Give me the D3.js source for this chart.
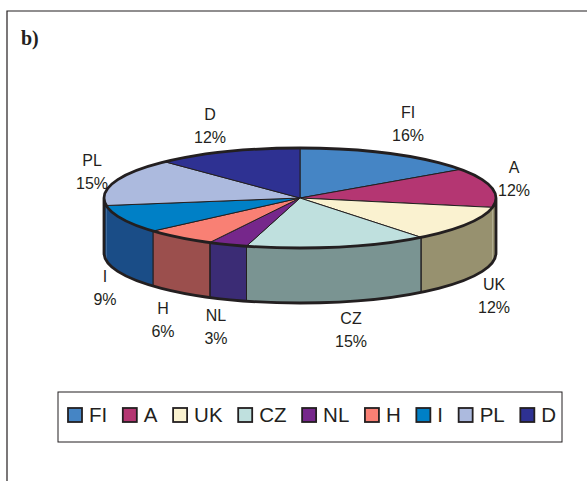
<!DOCTYPE html>
<html>
<head>
<meta charset="utf-8">
<script src="https://cdnjs.cloudflare.com/ajax/libs/d3/7.8.5/d3.min.js"></script>
<style>
	html, body { margin: 0; padding: 0; background: #fff; }
	svg { display: block; }
	text { font-family: "Liberation Sans", Arial, sans-serif; fill: #231f20; }
</style>
</head>
<body>
<svg id="chart" width="587" height="481"></svg>
<script>
const countries = ["FI", "A", "UK", "CZ", "NL", "H", "I", "PL", "D"];
// percentages as printed next to the slices
const shares = [16, 12, 12, 15, 3, 6, 9, 15, 12];
// slice sizes, they differ a bit from the printed ones
const sliceSizes = [15.3, 12.7, 11.4, 15, 3.2, 5.9, 9.1, 15.3, 12.1];
const topColors = ["#4585c5", "#b43672", "#faf2d0", "#bfe0de", "#76278b", "#f98074", "#0080c6", "#acbade", "#2e3192"];
const sideColors = ["#2a5076", "#97916f", "#97916f", "#7a9492", "#3b2c75", "#9b4f4d", "#1a4d87", "#1a4d87", "#1c1d58"];

const size = { width: 587, height: 481 };
const pieBox = { left: 104, right: 496, top: 148, bottom: 248, depth: 55 };
const ink = "#231f20";

const labelSpots = {
	FI: [408, 118], A: [514, 173], UK: [494, 290], CZ: [351, 324], NL: [216, 321],
	H: [163, 314], I: [105, 282], PL: [92, 166], D: [210, 120]
};

const svg = d3.select("#chart");

const x = d3.scaleLinear().domain([-1, 1]).range([pieBox.left, pieBox.right]);
const y = d3.scaleLinear().domain([-1, 1]).range([pieBox.top, pieBox.bottom]);
const rx = (pieBox.right - pieBox.left) / 2;
const ry = (pieBox.bottom - pieBox.top) / 2;

const rim = a => [x(Math.sin(a)), y(-Math.cos(a))];
const slices = d3.pie().sort(null).value((d, i) => sliceSizes[i])(countries);

const arcTo = (a, sweep) => {
	const [px, py] = rim(a);
	return `A${rx},${ry} 0 0 ${sweep} ${px},${py}`;
};

const topPath = d => {
	const [sx, sy] = rim(d.startAngle);
	const large = d.endAngle - d.startAngle > Math.PI ? 1 : 0;
	const [ex, ey] = rim(d.endAngle);
	return `M${x(0)},${y(0)}L${sx},${sy}A${rx},${ry} 0 ${large} 1 ${ex},${ey}Z`;
};

// only the part of a slice facing the viewer gets a wall
const sidePath = d => {
	const a0 = Math.max(d.startAngle, Math.PI / 2);
	const a1 = Math.min(d.endAngle, Math.PI * 1.5);
	if (a1 <= a0) return null;
	const [sx, sy] = rim(a0);
	const [ex, ey] = rim(a1);
	const h = pieBox.depth;
	return `M${sx},${sy}${arcTo(a1, 1)}L${ex},${ey + h}A${rx},${ry} 0 0 0 ${sx},${sy + h}Z`;
};

const drawFrame = () => {
	svg.append("path")
		.attr("d", `M7,${size.height}V11H${size.width}`)
		.attr("fill", "none")
		.attr("stroke", ink)
		.attr("stroke-width", 1.2);

	svg.append("text")
		.attr("x", 21)
		.attr("y", 45)
		.style("font-family", '"Liberation Serif", serif')
		.style("font-weight", "bold")
		.style("font-size", "20px")
		.text("b)");
};

const drawPie = () => {
	const g = svg.append("g").attr("class", "pie");

	g.selectAll("path.side")
		.data(slices.filter(sidePath))
		.join("path")
		.attr("class", "side")
		.attr("d", sidePath)
		.attr("fill", d => sideColors[d.index])
		.attr("stroke", d => sideColors[d.index] === sideColors[d.index + 1] || sideColors[d.index] === sideColors[d.index - 1] ? "none" : ink)
		.attr("stroke-width", 1);

	// seams between visible walls, the tiny A and PL pieces blend into their neighbours
	g.selectAll("path.seam")
		.data(slices.filter(d => d.startAngle > Math.PI / 2 && d.startAngle < Math.PI * 1.5 && sideColors[d.index] !== sideColors[d.index - 1]))
		.join("path")
		.attr("class", "seam")
		.attr("d", d => {
			const [px, py] = rim(d.startAngle);
			return `M${px},${py}V${py + pieBox.depth}`;
		})
		.attr("stroke", ink)
		.attr("stroke-width", 1);

	g.selectAll("path.top")
		.data(slices)
		.join("path")
		.attr("class", "top")
		.attr("d", topPath)
		.attr("fill", d => topColors[d.index])
		.attr("stroke", ink)
		.attr("stroke-width", 1);

	const h = pieBox.depth;
	const outline = `M${pieBox.left},${y(0)}A${rx},${ry} 0 1 1 ${pieBox.right},${y(0)}`
		+ `A${rx},${ry} 0 1 1 ${pieBox.left},${y(0)}`
		+ `V${y(0) + h}A${rx},${ry} 0 0 0 ${pieBox.right},${y(0) + h}V${y(0)}`;

	g.append("path")
		.attr("d", outline)
		.attr("fill", "none")
		.attr("stroke", ink)
		.attr("stroke-width", 2.8)
		.attr("stroke-linejoin", "round");
};

const drawLabels = () => {
	const labels = svg.append("g").attr("class", "labels")
		.selectAll("text")
		.data(countries)
		.join("text")
		.attr("text-anchor", "middle")
		.style("font-size", "16px");

	labels.append("tspan")
		.attr("x", c => labelSpots[c][0])
		.attr("y", c => labelSpots[c][1])
		.text(c => c);

	labels.append("tspan")
		.attr("x", c => labelSpots[c][0])
		.attr("y", c => labelSpots[c][1] + 23)
		.text((c, i) => `${shares[i]}%`);
};

const drawLegend = () => {
	const legend = svg.append("g").attr("class", "legend");

	legend.append("rect")
		.attr("x", 58)
		.attr("y", 392)
		.attr("width", 504)
		.attr("height", 50)
		.attr("fill", "#fff")
		.attr("stroke", ink)
		.attr("stroke-width", 1);

	let cursor = 68;
	countries.forEach((c, i) => {
		legend.append("rect")
			.attr("x", cursor)
			.attr("y", 408)
			.attr("width", 14)
			.attr("height", 14)
			.attr("fill", topColors[i])
			.attr("stroke", ink)
			.attr("stroke-width", 1.8);

		const label = legend.append("text")
			.attr("x", cursor + 21)
			.attr("y", 422)
			.style("font-size", "20.5px")
			.text(c);

		cursor += 21 + label.node().getComputedTextLength() + 15.6;
	});
};

const main = () => {
	drawFrame();
	drawPie();
	drawLabels();
	drawLegend();
};

main();
</script>
</body>
</html>
